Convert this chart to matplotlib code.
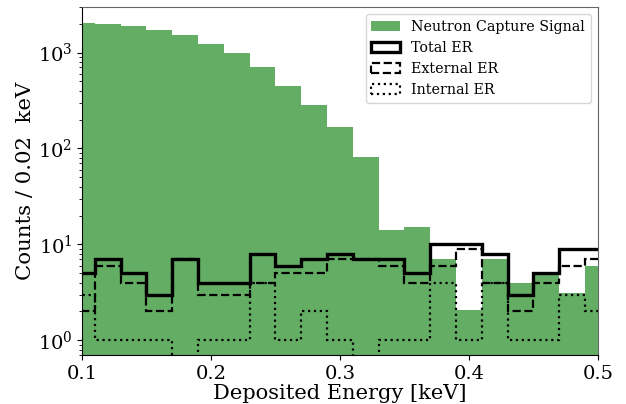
import numpy as np
import matplotlib
matplotlib.use("Agg")
import matplotlib.pyplot as plt

plt.rcParams['font.family'] = ['DejaVu Serif']
plt.rcParams['mathtext.fontset'] = 'dejavuserif'

# Bin centres (keV), width 0.02
bin_centers = [0.10, 0.12, 0.14, 0.16, 0.18, 0.20, 0.22, 0.24, 0.26, 0.28,
               0.30, 0.32, 0.34, 0.36, 0.38, 0.40, 0.42, 0.44, 0.46, 0.48, 0.50]
bin_width = 0.02

signal = [2050, 2000, 1910, 1740, 1540, 1240, 1000, 700, 453, 287,
          169, 82, 14, 15, 7.1, 2.05, 7.0, 4.0, 5.0, 3.1, 6.0]
external_er = [2, 6, 4, 2, 7, 3, 3, 4, 5, 5, 7, 7, 6, 4, 6, 9, 4, 2, 4, 6, 7]
internal_er = [3, 1, 1, 1, 0, 1, 1, 4, 1, 2, 1, 0, 1, 1, 4, 1, 4, 1, 1, 3, 2]
total_er = [e + i for e, i in zip(external_er, internal_er)]

centers = np.array(bin_centers)
edges = np.concatenate([centers - bin_width / 2, [centers[-1] + bin_width / 2]])

fig = plt.figure(figsize=(6.26, 4.04), dpi=100)
ax = fig.add_axes([0.131, 0.121, 0.824, 0.862])

ax.hist(centers, bins=edges, weights=signal, histtype='stepfilled',
        color='forestgreen', alpha=0.7, linewidth=0, log=True,
        label='Neutron Capture Signal')
ax.hist(centers, bins=edges, weights=total_er, histtype='step',
        color='black', linewidth=2.4, linestyle='-', label='Total ER')
ax.hist(centers, bins=edges, weights=external_er, histtype='step',
        color='black', linewidth=1.6, linestyle='--', label='External ER')
ax.hist(centers, bins=edges, weights=internal_er, histtype='step',
        color='black', linewidth=1.6, linestyle=':', label='Internal ER')

ax.set_yscale('log', nonpositive='clip')
ax.set_xlim(0.1, 0.5)
ax.set_ylim(0.7, 3000)
ax.set_xticks([0.1, 0.2, 0.3, 0.4, 0.5])
ax.set_xticklabels(['0.1', '0.2', '0.3', '0.4', '0.5'])
ax.tick_params(axis='both', which='major', labelsize=14)

xl = ax.set_xlabel('Deposited Energy [keV]', fontsize=15, labelpad=1)
yl = ax.set_ylabel('Counts / 0.02  keV', fontsize=15, labelpad=2)

for s in ['top', 'right']:
    ax.spines[s].set_color('#666666')
for s in ['left', 'bottom']:
    ax.spines[s].set_color('black')

leg = ax.legend(loc='upper right', fontsize=11)

# scale text sizes to match measured pixel extents of the reference
fig.canvas.draw()
r = fig.canvas.get_renderer()
w = xl.get_window_extent(r).width
xl.set_fontsize(15 * 255.0 / w)
h = yl.get_window_extent(r).height
yl.set_fontsize(15 * 199.0 / h)
lw_ = leg.get_texts()[0].get_window_extent(r).width
leg_fs = 11 * 173.0 / lw_
leg.remove()
ax.legend(loc='upper right', fontsize=leg_fs)

fig.savefig('out.png', dpi=100)
